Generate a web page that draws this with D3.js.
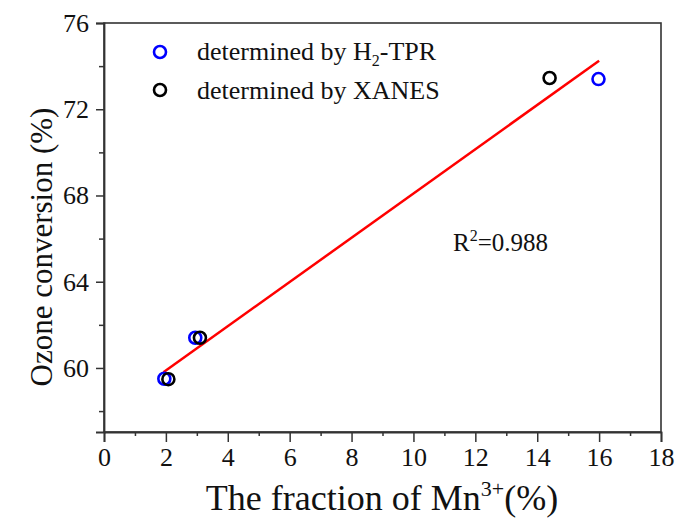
<!DOCTYPE html>
<html>
<head>
<meta charset="utf-8">
<script src="https://cdn.jsdelivr.net/npm/d3@7"></script>
<style>
  body { margin: 0; background: #fff; }
  svg { display: block; }
  svg text { font-family: 'Liberation Serif', 'Times New Roman', serif; }
</style>
</head>
<body>
<svg width="676" height="520"></svg>
<script>
// H2-TPR points (blue)
var tprX = [1.95, 2.95, 15.98];
var tprY = [59.5, 61.4, 73.4];
// XANES points (black)
var xanesX = [2.08, 3.1, 14.4];
var xanesY = [59.48, 61.4, 73.45];
// linear fit endpoints
var fitX = [1.92, 16.0];
var fitY = [59.8, 74.25];

var xTicks = [0, 2, 4, 6, 8, 10, 12, 14, 16, 18];
var yTicks = [60, 64, 68, 72, 76];

var serif = "'Liberation Serif', 'Times New Roman', serif";
var svg = d3.select("svg");
var x = d3.scaleLinear().domain([0, 18]).range([104, 661]);
var y = d3.scaleLinear().domain([57.03, 76]).range([432, 23]);

// frame top/right
svg.append("rect")
    .attr("x", x(0)).attr("y", y(76))
    .attr("width", x(18) - x(0)).attr("height", y(57.03) - y(76))
    .attr("fill", "none").attr("stroke", "#333").attr("stroke-width", 1.6);

// x axis
var xAxis = d3.axisBottom(x).tickValues(xTicks).tickSize(10).tickPadding(6).tickFormat(d3.format("d"));
svg.append("g").attr("transform", "translate(0," + y(57.03) + ")").call(xAxis);
svg.append("g").attr("transform", "translate(0," + y(57.03) + ")")
    .call(d3.axisBottom(x).tickValues(d3.range(1, 18, 2)).tickSize(4).tickFormat(""))
    .select(".domain").remove();

// y axis
var yAxis = d3.axisLeft(y).tickValues(yTicks).tickSize(8).tickPadding(7);
svg.append("g").attr("transform", "translate(" + x(0) + ",0)").call(yAxis);
svg.append("g").attr("transform", "translate(" + x(0) + ",0)")
    .call(d3.axisLeft(y).tickValues([58, 62, 66, 70, 74]).tickSize(5).tickFormat(""))
    .select(".domain").remove();

svg.selectAll("g").attr("font-family", serif).attr("font-size", 26);
svg.selectAll(".tick text")
    .style("font-family", serif)
    .style("font-size", "26px")
    .attr("fill", "#111");
svg.selectAll(".domain").attr("stroke", "#333").attr("stroke-width", 1.8);
svg.selectAll(".tick line").attr("stroke", "#333").attr("stroke-width", 1.5);

// fit line
svg.append("line")
    .attr("x1", x(fitX[0])).attr("y1", y(fitY[0]))
    .attr("x2", x(fitX[1])).attr("y2", y(fitY[1]))
    .attr("stroke", "#ff0000").attr("stroke-width", 2.5);

// points
svg.selectAll("circle.tpr").data(tprX).enter().append("circle")
    .attr("class", "tpr")
    .attr("cx", d => x(d)).attr("cy", (d, i) => y(tprY[i])).attr("r", 6)
    .attr("fill", "none").attr("stroke", "#0000ff").attr("stroke-width", 2.6);
svg.selectAll("circle.xanes").data(xanesX).enter().append("circle")
    .attr("class", "xanes")
    .attr("cx", d => x(d)).attr("cy", (d, i) => y(xanesY[i])).attr("r", 6)
    .attr("fill", "none").attr("stroke", "#000").attr("stroke-width", 2.6);

// legend
svg.append("circle").attr("cx", 160).attr("cy", 52).attr("r", 6)
    .attr("fill", "none").attr("stroke", "#0000ff").attr("stroke-width", 2.6);
svg.append("circle").attr("cx", 160).attr("cy", 90).attr("r", 6)
    .attr("fill", "none").attr("stroke", "#000").attr("stroke-width", 2.6);
var l1 = svg.append("text").attr("x", 197).attr("y", 60).style("font-size", "26px").attr("fill", "#111");
l1.append("tspan").text("determined by H");
l1.append("tspan").attr("dy", 6).style("font-size", "16px").text("2");
l1.append("tspan").attr("dy", -6).text("-TPR");
svg.append("text").attr("x", 197).attr("y", 99).style("font-size", "26px").attr("fill", "#111")
    .text("determined by XANES");

// R2
var r2 = svg.append("text").attr("x", 453).attr("y", 251).style("font-size", "25px").attr("fill", "#111");
r2.append("tspan").text("R");
r2.append("tspan").attr("dy", -10).style("font-size", "16px").text("2");
r2.append("tspan").attr("dy", 10).text("=0.988");

// axis titles
var xt = svg.append("text").attr("x", 382).attr("y", 510).attr("text-anchor", "middle")
    .style("font-size", "36px").attr("fill", "#111");
xt.append("tspan").text("The fraction of Mn");
xt.append("tspan").attr("dy", -14).style("font-size", "22px").text("3+");
xt.append("tspan").attr("dy", 14).text("(%)");

svg.append("text").attr("transform", "translate(52,247) rotate(-90)").attr("text-anchor", "middle")
    .style("font-size", "31px").attr("fill", "#111")
    .text("Ozone conversion (%)");
</script>
</body>
</html>
